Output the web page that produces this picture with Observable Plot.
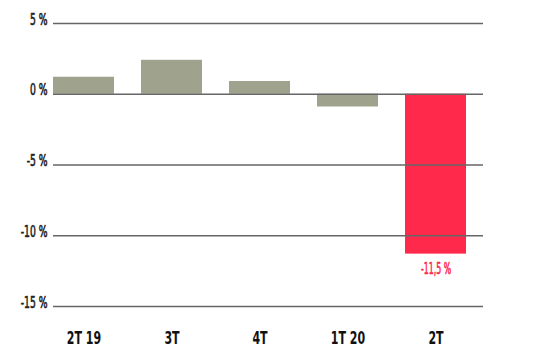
<!DOCTYPE html>
<html>
<head>
<meta charset="utf-8">
<script src="https://cdn.jsdelivr.net/npm/d3@7"></script>
<script src="https://cdn.jsdelivr.net/npm/@observablehq/plot@0.6"></script>
<style>
  html, body { margin: 0; padding: 0; background: #fff; }
  svg { font-family: "DejaVu Sans Condensed", "DejaVu Sans", sans-serif; font-stretch: condensed; }
</style>
</head>
<body>
<div id="chart"></div>
<script>
const quarters = ["2T 19", "3T", "4T", "1T 20", "2T"];
const growth = [1.2, 2.4, 0.9, -0.9, -11.3];
const highlight = [false, false, false, false, true];
const valueLabels = ["", "", "", "", "-11,5 %"];
const yTicks = [5, 0, -5, -10, -15];
const yTickLabels = ["5 %", "0 %", "-5 %", "-10 %", "-15 %"];

const data = quarters.map((q, i) => ({q, v: growth[i], hi: highlight[i], label: valueLabels[i]}));
const ticks = yTicks.map((t, i) => ({t, label: yTickLabels[i]}));

const chart = Plot.plot({
  width: 540,
  height: 360,
  marginTop: 23,
  marginBottom: 54,
  marginLeft: 53,
  marginRight: 57,
  x: {domain: quarters, paddingInner: 0.306, paddingOuter: 0.088, align: 0, axis: null},
  y: {domain: [-15, 5], axis: null},
  marks: [
    Plot.barY(data, {x: "q", y: "v", fill: d => d.hi ? "#ff2a4b" : "#9fa28c"}),
    Plot.ruleY(ticks, {y: "t", stroke: "#666", strokeWidth: 1.3}),
    Plot.text(ticks, {y: "t", text: "label", frameAnchor: "left", dx: -6, textAnchor: "end", lineAnchor: "bottom", dy: 1, fontSize: 16, fill: "#222", stroke: "#222", strokeWidth: 0.6, className: "sq-y"}),
    Plot.text(data, {x: "q", text: "q", frameAnchor: "bottom", dy: 32, lineAnchor: "middle", fontSize: 17, fontWeight: "bold", fill: "#111", className: "sq-x"}),
    Plot.text(data.filter(d => d.label), {x: "q", y: "v", text: "label", dy: 15, lineAnchor: "middle", fontSize: 15, fill: "#ff2a4b", stroke: "#ff2a4b", strokeWidth: 0.6, className: "sq-v"})
  ]
});
document.getElementById("chart").appendChild(chart);

// horizontally condense text around its anchor point
const squeeze = {"sq-y": 0.64, "sq-x": 0.72, "sq-v": 0.58};
for (const [cls, s] of Object.entries(squeeze)) {
  chart.querySelectorAll(`g.${cls} text, .${cls} text`).forEach(t => {
    let tr = t.getAttribute("transform") || "";
    const x = t.getAttribute("x");
    if (x != null && !isNaN(+x) && +x !== 0) { tr += ` translate(${x},0)`; t.setAttribute("x", 0); }
    t.setAttribute("transform", `${tr} scale(${s},1)`.trim());
  });
}
</script>
</body>
</html>
